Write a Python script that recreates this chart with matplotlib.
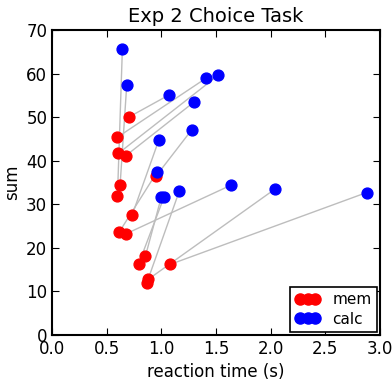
#!/usr/bin/env python3
"""Exp 2 choice task: reaction time vs sum, mem and calc paired per item."""

import matplotlib
matplotlib.use("Agg")
import matplotlib.pyplot as plt
from matplotlib.lines import Line2D

# paired items: mem (red) and calc (blue) for the same problem
mem_rt = [0.708, 0.598, 0.607, 0.677, 0.955, 0.622, 0.598, 0.732,
          0.616, 0.674, 0.854, 0.793, 1.08, 0.881, 0.866]
mem_sum = [50.1, 45.4, 41.7, 41.2, 36.6, 34.4, 31.8, 27.5,
           23.7, 23.2, 18.1, 16.4, 16.2, 12.8, 11.9]
calc_rt = [1.07, 1.406, 1.519, 1.30, 1.278, 0.683, 0.643, 0.976,
           0.958, 1.638, 1.00, 1.025, 2.879, 2.04, 1.165]
calc_sum = [55.1, 58.9, 59.6, 53.5, 47.1, 57.4, 65.6, 44.7,
            37.3, 34.4, 31.7, 31.7, 32.7, 33.5, 33.1]

fig = plt.figure(figsize=(3.92, 3.90), dpi=100)
ax = fig.add_axes([0.133, 0.141, 0.836, 0.782])

for xm, ym, xc, yc in zip(mem_rt, mem_sum, calc_rt, calc_sum):
    ax.plot([xm, xc], [ym, yc], color="#bdbdbd", linewidth=1.0, zorder=1)

ax.plot(mem_rt, mem_sum, "o", color="red", mec="red", markersize=7.8, zorder=2)
ax.plot(calc_rt, calc_sum, "o", color="blue", mec="blue", markersize=7.8, zorder=3)

ax.set_xlim(0, 3.0)
ax.set_ylim(0, 70)
ax.set_xticks([0.0, 0.5, 1.0, 1.5, 2.0, 2.5, 3.0])
ax.set_yticks(range(0, 71, 10))
ax.tick_params(direction="in", length=5, top=True, right=True, labelsize=12)
for s in ax.spines.values():
    s.set_linewidth(1.5)

ax.set_title("Exp 2 Choice Task", fontsize=14)
ax.set_xlabel("reaction time (s)", fontsize=12)
ax.set_ylabel("sum", fontsize=12)

handles = [
    Line2D([0], [0], color="red", marker="o", mec="red", markersize=8, linewidth=1),
    Line2D([0], [0], color="blue", marker="o", mec="blue", markersize=8, linewidth=1),
]
leg = ax.legend(handles, ["mem", "calc"], loc="lower right", numpoints=3,
                fontsize=11, fancybox=False, edgecolor="black", framealpha=1,
                handlelength=1.6, handletextpad=0.8, borderpad=0.35,
                labelspacing=0.3, borderaxespad=0.2)
leg.get_frame().set_linewidth(1.2)

fig.savefig("out.png", dpi=100)
